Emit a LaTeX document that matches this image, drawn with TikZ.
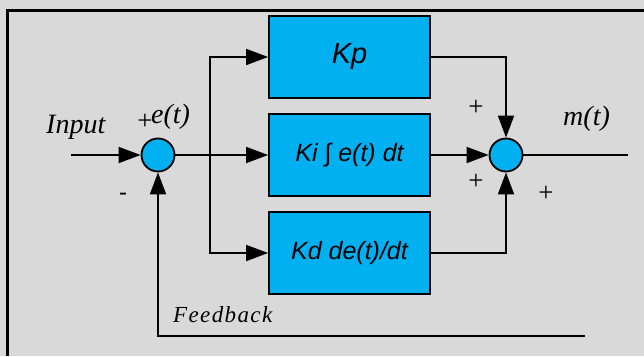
\documentclass[tikz,border=0pt]{standalone}
\usepackage{fontspec}
\setmainfont{Liberation Serif}
\newfontfamily\arialfont{Liberation Sans}
\newfontfamily\spacedfont[LetterSpace=6]{Liberation Serif}
\usetikzlibrary{arrows.meta, positioning}

\definecolor{boxblue}{RGB}{0,176,240}
\definecolor{bggray}{RGB}{217,217,217}

\begin{document}
\begin{tikzpicture}[
  x=1pt, y=-1pt,
  block/.style={rectangle, draw, line width=1.8pt, fill=boxblue, minimum width=161pt, minimum height=82pt, font=\arialfont\itshape\fontsize{25}{30}\selectfont},
  sum/.style={circle, draw, line width=1.8pt, fill=boxblue, minimum size=33pt, inner sep=0pt},
  sig/.style={line width=1.8pt, -{Triangle[length=22pt, width=16pt]}},
  lbl/.style={font=\itshape\fontsize{28}{32}\selectfont, inner sep=0pt},
  sgn/.style={font=\fontsize{27}{30}\selectfont, inner sep=0pt}
]

\fill[bggray] (0,0) rectangle (644,356);
\useasboundingbox (0,0) rectangle (644,356);
\draw[line width=3pt] (7,356) -- (7,10) -- (644,10);

\node[sum] (err) at (158,155) {};
\node[sum] (add) at (506,155) {};
\node[block] (kp) at (349.5,57) {\fontsize{29}{32}\selectfont Kp};
\node[block] (ki) at (349.5,155) {Ki ∫ e(t) dt};
\node[block] (kd) at (349.5,253) {Kd de(t)/dt};

\coordinate (in) at (71,155);
\coordinate (split) at (210,155);
\coordinate (out) at (628,155);
\coordinate (fb) at (585,336);

% Connessioni
\draw[sig] (in) -- (err);
\draw[sig] (err) -- (ki);
\draw[sig] (split) |- (kp);
\draw[sig] (split) |- (kd);
\draw[sig] (kp) -| (add);
\draw[sig] (ki) -- (add);
\draw[sig] (kd) -| (add);
\draw[line width=1.8pt] (add) -- (out);
\draw[sig] (fb) -| (err);

% Etichette
\node[lbl, anchor=base west] (input) at (46,133) {Input};
\node[lbl, anchor=base west] (e) at (151,123) {e(t)};
\node[lbl, anchor=base west] (m) at (563,125) {m(t)};
\node[font=\spacedfont\itshape\fontsize{23}{26}\selectfont, inner sep=0pt, anchor=base west] (feedback) at (173,322) {Feedback};
\node[sgn] (p1) at (145,122) {+};
\node[sgn, font=\arialfont\fontsize{24}{26}\selectfont] (m1) at (123,197) {-};
\node[sgn] (p2) at (476,108) {+};
\node[sgn] (p3) at (476,182) {+};
\node[sgn] (p4) at (546,194) {+};

\end{tikzpicture}
\end{document}
